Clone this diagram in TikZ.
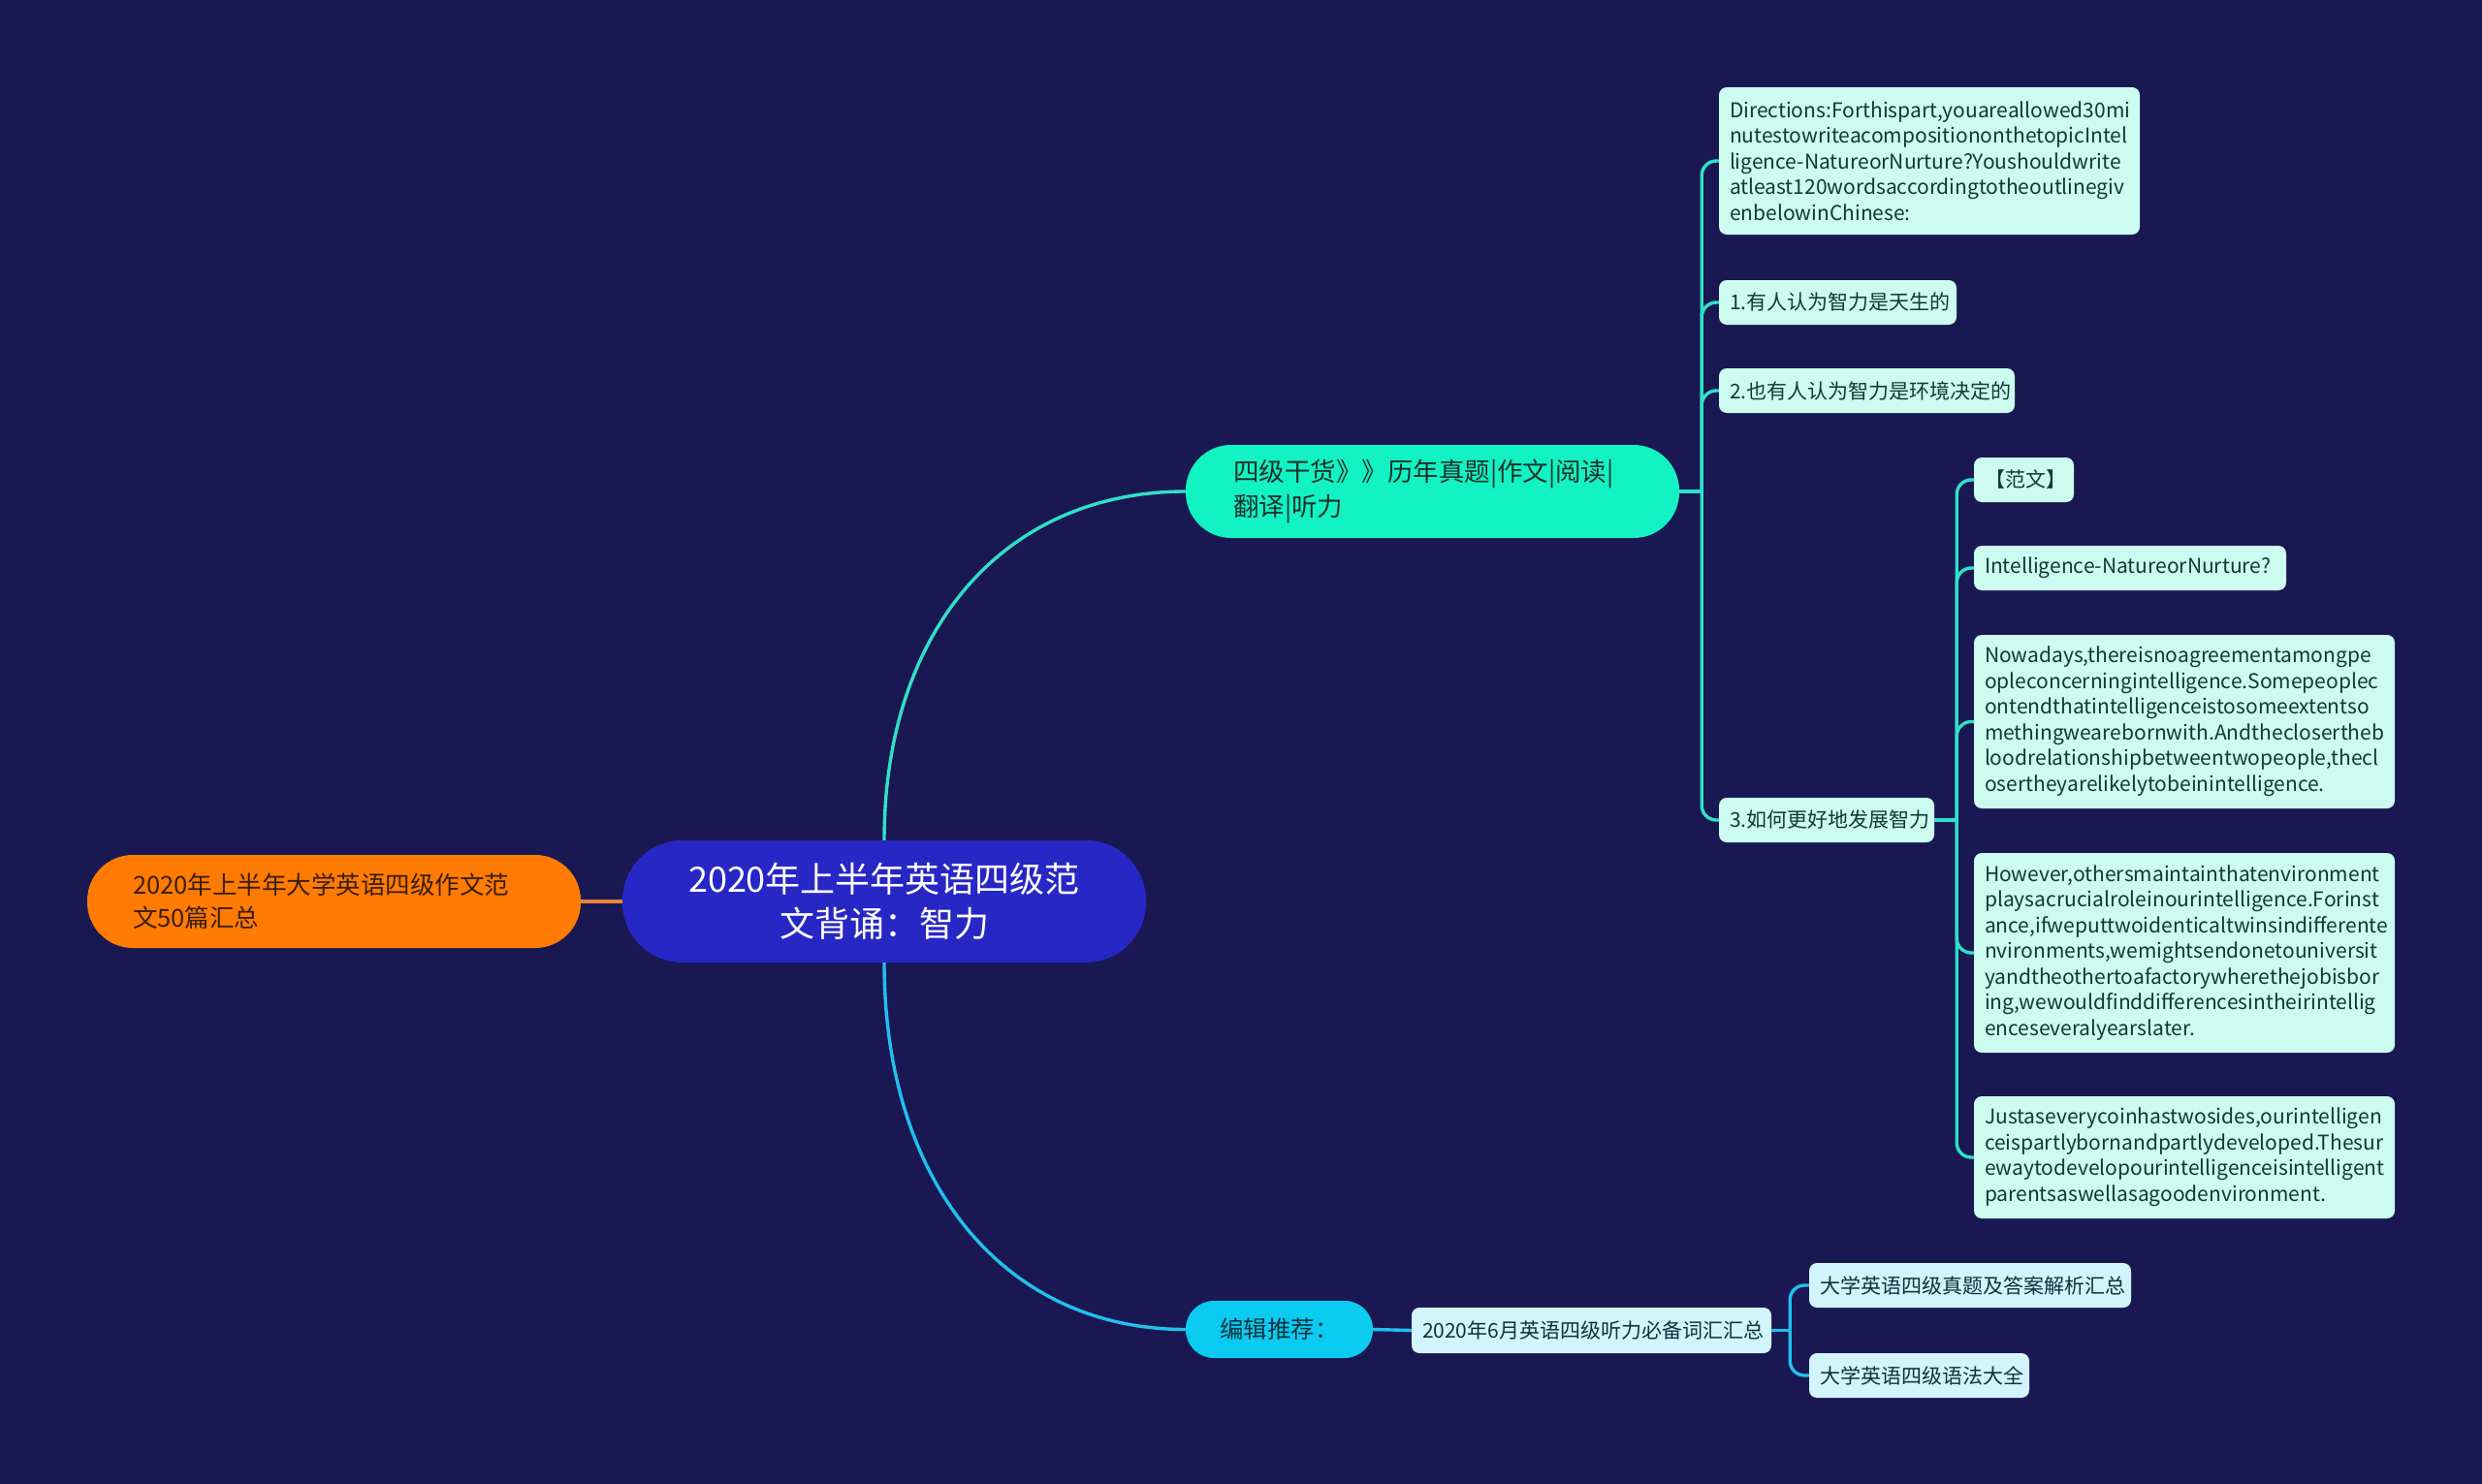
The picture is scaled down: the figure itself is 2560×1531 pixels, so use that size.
\documentclass[tikz,border=0pt]{standalone}
\usepackage{fontspec}
\setmainfont{Noto Sans CJK SC}
\usetikzlibrary{calc}
\definecolor{bg}{HTML}{1A1852}
\definecolor{rootfill}{HTML}{2727C6}
\definecolor{orangefill}{HTML}{FF7B04}
\definecolor{orangetext}{HTML}{3A1E00}
\definecolor{orangeline}{HTML}{E8873A}
\definecolor{bAfill}{HTML}{12F2C2}
\definecolor{bAtext}{HTML}{17302B}
\definecolor{bBfill}{HTML}{0BCBF0}
\definecolor{bBtext}{HTML}{0D3240}
\definecolor{leafA}{HTML}{CCFBEF}
\definecolor{leafAtext}{HTML}{0E3B32}
\definecolor{leafB}{HTML}{D2F5FB}
\definecolor{leafBtext}{HTML}{0D3240}
\definecolor{lineA}{HTML}{2FE0C8}
\definecolor{lineB}{HTML}{22C0EC}
\hyphenpenalty=10000
\exhyphenpenalty=10000
\begin{document}
\begin{tikzpicture}[x=1pt,y=-1pt,
  rootbox/.style={fill=rootfill,text=white,rounded corners=62pt,inner xsep=20pt,inner ysep=0pt,
    text width=500pt,minimum height=126pt,align=center,font=\fontsize{36}{46}\selectfont},
  orangebox/.style={fill=orangefill,text=orangetext,rounded corners=47pt,inner xsep=47pt,inner ysep=0pt,
    text width=415pt,minimum height=96pt,align=left,font=\fontsize{25.5}{34}\selectfont},
  branchA/.style={fill=bAfill,text=bAtext,rounded corners=47pt,inner xsep=49pt,inner ysep=0pt,
    text width=411pt,minimum height=96pt,align=left,font=\fontsize{26.5}{36}\selectfont},
  branchB/.style={fill=bBfill,text=bBtext,rounded corners=29pt,inner xsep=15pt,inner ysep=0pt,
    text width=163pt,minimum height=59pt,align=center,font=\fontsize{24.5}{30}\selectfont},
  leafbox/.style={rounded corners=8pt,inner xsep=11pt,inner ysep=0pt,align=left,
    font=\fontsize{21}{26.5}\selectfont},
  leafa/.style={leafbox,fill=leafA,text=leafAtext},
  leafb/.style={leafbox,fill=leafB,text=leafBtext},
  conA/.style={draw=lineA,line width=3.4pt},
  conB/.style={draw=lineB,line width=3.4pt},
  conO/.style={draw=orangeline,line width=3.4pt},
]
\fill[bg] (0,0) rectangle (2560,1531);

% main nodes
\node[rootbox] (root) at (912,930) {2020年上半年英语四级范\\文背诵：智力};
\node[orangebox] (orange) at (344.5,930) {2020年上半年大学英语四级作文范\\文50篇汇总};
\node[branchA] (b1) at (1477.5,507) {四级干货》》历年真题|作文|阅读|\\翻译|听力};
\node[branchB] (b2) at (1319.5,1371.5) {编辑推荐：};

% branch 1 children
\node[leafa,text width=412pt,minimum height=152pt] (dir) at (1990,166)
  {Directions:Forthispart,youareallowed30mi\\nutestowriteacompositiononthetopicIntel\\ligence-NatureorNurture?Youshouldwrite\\atleast120wordsaccordingtotheoutlinegiv\\enbelowinChinese:};
\node[leafa,text width=223pt,minimum height=46pt] (l1) at (1895.5,312) {1.有人认为智力是天生的};
\node[leafa,text width=283pt,minimum height=46pt] (l2) at (1925.5,403) {2.也有人认为智力是环境决定的};
\node[leafa,text width=200pt,minimum height=46pt] (l3) at (1884,846) {3.如何更好地发展智力};

% children of 3
\node[leafa,text width=81pt,minimum height=46pt] (fw) at (2087.5,495) {【范文】};
\node[leafa,text width=300pt,minimum height=46pt] (ttl) at (2197,586) {Intelligence-NatureorNurture?};
\node[leafa,text width=412pt,minimum height=179pt] (now) at (2253,744.5)
  {Nowadays,thereisnoagreementamongpe\\opleconcerningintelligence.Somepeoplec\\ontendthatintelligenceistosomeextentso\\methingwearebornwith.Andtheclosertheb\\loodrelationshipbetweentwopeople,thecl\\osertheyarelikelytobeinintelligence.};
\node[leafa,text width=412pt,minimum height=206pt] (how) at (2253,983)
  {However,othersmaintainthatenvironment\\playsacrucialroleinourintelligence.Forinst\\ance,ifweputtwoidenticaltwinsindifferente\\nvironments,wemightsendonetouniversit\\yandtheothertoafactorywherethejobisbor\\ing,wewouldfinddifferencesintheirintellig\\enceseveralyearslater.};
\node[leafa,text width=412pt,minimum height=126pt] (just) at (2253,1194)
  {Justaseverycoinhastwosides,ourintelligen\\ceispartlybornandpartlydeveloped.Thesur\\ewaytodevelopourintelligenceisintelligent\\parentsaswellasagoodenvironment.};

% branch 2 children
\node[leafb,text width=349pt,minimum height=47pt] (voc) at (1641.5,1372.5) {2020年6月英语四级听力必备词汇汇总};
\node[leafb,text width=310pt,minimum height=46pt] (z1) at (2032,1326) {大学英语四级真题及答案解析汇总};
\node[leafb,text width=205pt,minimum height=46pt] (z2) at (1979.5,1419) {大学英语四级语法大全};

% connectors root
\draw[conO] (orange.east) -- (root.west);
\draw[conA] (root.north) .. controls +(0,-217) and +(-187,0) .. (b1.west);
\draw[conB] (root.south) .. controls +(0,227) and +(-187,0) .. (b2.west);

% branch 1 bracket
\coordinate (j1) at ([xshift=23pt]b1.east);
\draw[conA] (b1.east) -- (j1);
\foreach \c in {dir,l1,l2,l3}{
  \draw[conA,rounded corners=15pt] (j1) |- (\c.west);
}
% 3 bracket
\coordinate (j3) at ([xshift=23pt]l3.east);
\draw[conA] (l3.east) -- (j3);
\foreach \c in {fw,ttl,now,how,just}{
  \draw[conA,rounded corners=15pt] (j3) |- (\c.west);
}
% branch 2
\draw[conB] (b2.east) -- (voc.west);
\coordinate (jv) at ([xshift=19pt]voc.east);
\draw[conB] (voc.east) -- (jv);
\foreach \c in {z1,z2}{
  \draw[conB,rounded corners=15pt] (jv) |- (\c.west);
}
\end{tikzpicture}
\end{document}
